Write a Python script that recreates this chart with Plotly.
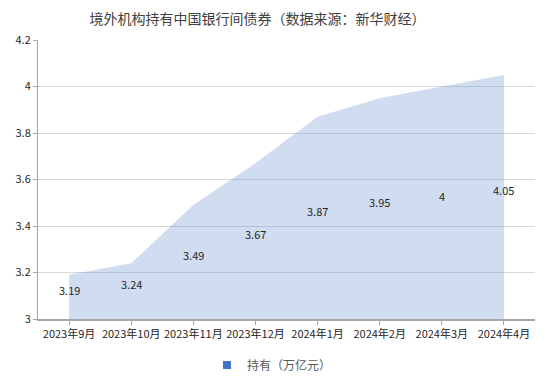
import plotly.graph_objects as go

categories = ["2023年9月", "2023年10月", "2023年11月", "2023年12月",
              "2024年1月", "2024年2月", "2024年3月", "2024年4月"]
values = [3.19, 3.24, 3.49, 3.67, 3.87, 3.95, 4.00, 4.05]
labels = ["3.19", "3.24", "3.49", "3.67", "3.87", "3.95", "4", "4.05"]
series_name = "持有（万亿元）"
title_text = "境外机构持有中国银行间债券（数据来源：新华财经）"
y_min, y_max = 3.0, 4.2

font_family = "Noto Sans CJK SC, Microsoft YaHei, sans-serif"
text_color = "#595959"

# page body has an 8px default margin; size the figure to fit the window
W, H = 546, 374

fig = go.Figure()
fig.add_trace(go.Scatter(
    x=categories, y=values, mode="lines", fill="tozeroy",
    line=dict(width=0, color="rgba(68,114,196,0)"),
    fillcolor="rgba(68,114,196,0.25)", showlegend=False, hoverinfo="x+y",
))
fig.add_trace(go.Scatter(
    x=[None], y=[None], mode="markers", name=series_name,
    marker=dict(symbol="square", size=8, color="#4472c4"),
))

annotations = []
for c, v, t in zip(categories, values, labels):
    annotations.append(dict(
        x=c, y=(v + y_min) / 2, text=t, showarrow=False, yshift=7,
        font=dict(size=11, color="#262626", family=font_family),
    ))

fig.update_layout(
    width=W, height=H,
    margin=dict(l=30, r=19, t=32, b=63, pad=0),
    paper_bgcolor="white", plot_bgcolor="white",
    title=dict(text=title_text, x=249.5 / W, xanchor="center", xref="container",
               y=1 - 11 / H, yanchor="middle", yref="container", pad=dict(t=0),
               font=dict(size=14, color="#404040", family=font_family)),
    font=dict(family=font_family, size=11, color=text_color),
    annotations=annotations,
    legend=dict(orientation="h", x=264 / W, xanchor="center", xref="container",
                y=(H - 357) / H, yanchor="middle", yref="container",
                font=dict(size=12, color=text_color), itemwidth=30),
    showlegend=True,
)
fig.update_xaxes(
    type="category", range=[-0.5, len(categories) - 0.5], automargin=False,
    showline=True, linecolor="#a6a6a6", linewidth=1.5,
    ticks="outside", ticklen=4, tickcolor="#a6a6a6",
    showgrid=False, tickfont=dict(size=11, color="#262626"),
)
fig.update_yaxes(
    range=[y_min, y_max], dtick=0.2, tick0=3, automargin=False,
    showline=True, linecolor="#a6a6a6", linewidth=1,
    ticks="outside", ticklen=4, tickcolor="#a6a6a6",
    showgrid=True, gridcolor="#d9d9d9", gridwidth=1,
    zeroline=False, tickfont=dict(size=11, color="#262626"),
)

fig.write_html("out.html")
